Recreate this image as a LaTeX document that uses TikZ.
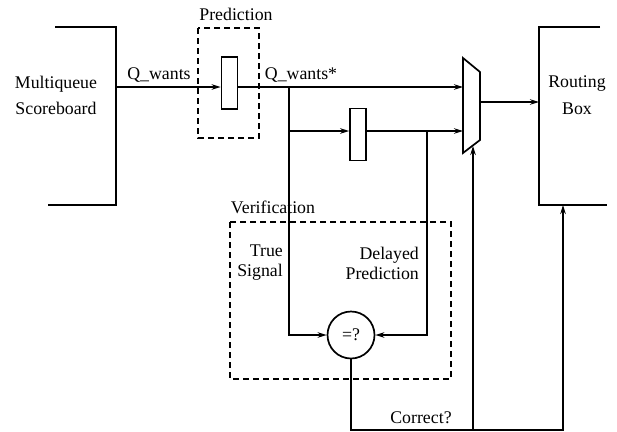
\documentclass[tikz,border=0pt]{standalone}
\usepackage{fontspec}
\setmainfont{Liberation Serif}
\usetikzlibrary{arrows.meta}
\begin{document}
\begin{tikzpicture}[x=1pt,y=-1pt,
  wire/.style={line width=1.7pt},
  arr/.style={wire,-{Stealth[length=9pt,width=5.5pt]}},
  reg/.style={draw,line width=1.7pt,minimum width=16pt,minimum height=52pt,inner sep=0pt},
  dbox/.style={draw,line width=1.5pt,dash pattern=on 6pt off 4pt},
  lbl/.style={font=\rmfamily\fontsize{17.8}{20}\selectfont,inner sep=0pt},
  ]
\useasboundingbox (0,0) rectangle (617,431);
% Multiqueue scoreboard bracket
\draw[wire] (55,27) -- (116,27) -- (116,205) -- (48,205);
\coordinate (mqsE) at (116,87);
\node[lbl,align=center,font=\rmfamily\fontsize{17.8}{26}\selectfont] (mqs) at (56,95) {Multiqueue\\Scoreboard};
% Routing box
\draw[wire] (600,27) -- (539,27) -- (539,205) -- (607,205);
\coordinate (rbW) at (539,102);
\coordinate (rbS) at (563,205);
\node[lbl,align=center,font=\rmfamily\fontsize{17.8}{27}\selectfont] (rb) at (577,95) {Routing\\Box};
% dashed boxes
\draw[dbox] (198,28) rectangle (259,138);
\node[lbl] (predl) at (236,14) {Prediction};
\draw[dbox] (230,222) rectangle (451,379);
\node[lbl] (verl) at (273,207) {Verification};
% registers
\node[reg] (r1) at (229.5,83) {};
\node[reg] (r2) at (358,134.5) {};
% mux
\coordinate (m1) at (463,58);
\coordinate (m2) at (480,72);
\coordinate (m3) at (480,140);
\coordinate (m4) at (463,153);
\draw[wire,line join=miter] (m1) -- (m2) -- (m3) -- (m4) -- cycle;
\coordinate (muxA) at (463,87);
\coordinate (muxB) at (463,131);
\coordinate (muxO) at (480,102);
\coordinate (muxS) at (473,146);
% comparator
\node[draw,circle,line width=1.7pt,minimum size=47pt,inner sep=0pt,font=\rmfamily\fontsize{17.8}{20}\selectfont] (cmp) at (351,335) {=?};
% wires
\coordinate (b1) at (289,87);
\coordinate (b2) at (289,131);
\coordinate (b3) at (427,131);
\coordinate (cBot) at (563,430);
\coordinate (sBot) at (473,430);
\draw[arr] (mqsE) -- (r1.west |- mqsE);
\draw[arr] (r1.east |- mqsE) -- (muxA);
\draw[arr] (b1) |- (cmp.west);
\draw[arr] (b2) -- (r2.west |- b2);
\draw[arr] (r2.east |- b2) -- (muxB);
\draw[arr] (b3) |- (cmp.east);
\draw[arr] (muxO) -- (rbW);
\draw[arr] (cmp.south) |- (cBot) -- (rbS);
\draw[arr] (sBot) -- (muxS);
% labels
\node[lbl] (qw) at (159,75) {Q\_wants};
\node[lbl] (qws) at (301,75) {Q\_wants*};
\node[lbl,align=right,anchor=east] (ts) at (283,263) {True\\Signal};
\node[lbl,align=right,anchor=east] (dp) at (419,263) {Delayed\\Prediction};
\node[lbl] (corr) at (421,418) {Correct?};
\end{tikzpicture}
\end{document}
